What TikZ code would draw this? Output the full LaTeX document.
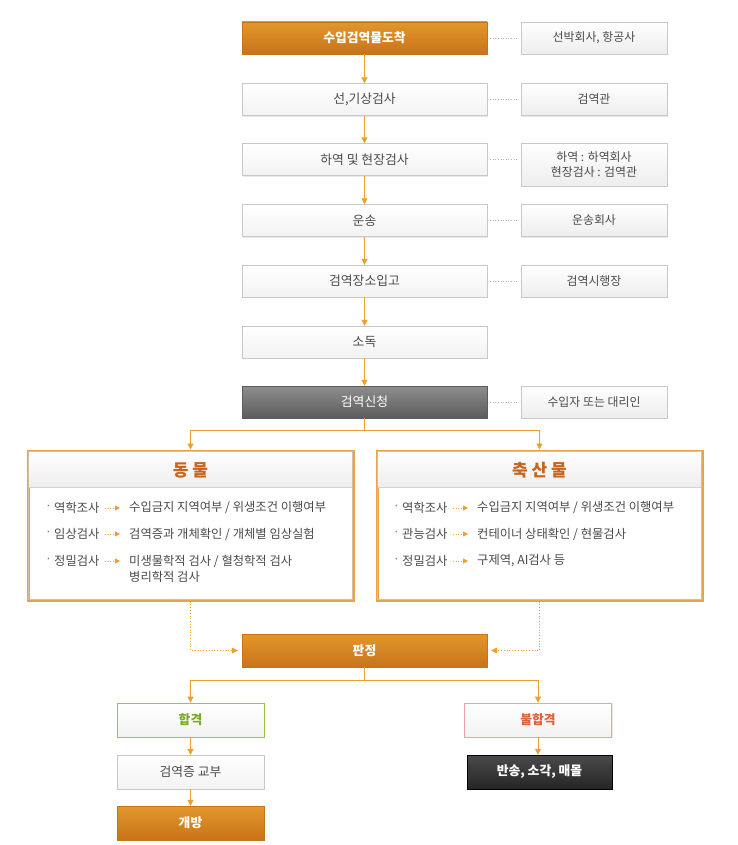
\documentclass[tikz,border=0pt]{standalone}
\usepackage{fontspec}
\setmainfont{Noto Sans CJK KR}
\usetikzlibrary{arrows.meta,shadows}

\definecolor{orTop}{HTML}{E2972B}
\definecolor{orBot}{HTML}{C8731A}
\definecolor{orLine}{HTML}{E9A24A}
\definecolor{flowCol}{HTML}{E8A030}
\definecolor{txtGray}{HTML}{4A4A4A}
\definecolor{boxLine}{HTML}{C8C8C8}
\definecolor{grayTop}{HTML}{8E8E8E}
\definecolor{grayBot}{HTML}{5C5C5C}
\definecolor{blackTop}{HTML}{4A4A4A}
\definecolor{blackBot}{HTML}{262626}
\definecolor{passLine}{HTML}{9CC63A}
\definecolor{passTxt}{HTML}{7BAA2A}
\definecolor{failLine}{HTML}{E9A3A3}
\definecolor{failTxt}{HTML}{E0603A}
\definecolor{titleTxt}{HTML}{C8641E}

\begin{document}
\begin{tikzpicture}[x=1pt,y=-1pt,
    mainbox/.style={draw=boxLine, top color=white, bottom color=gray!10,
        minimum width=245pt, minimum height=32pt, inner sep=0pt, text=txtGray,
        font=\fontsize{12.8}{14}\selectfont,
        drop shadow={shadow xshift=1pt, shadow yshift=-1.2pt, fill=black!18}},
    orangebox/.style={mainbox, draw=orBot, top color=orTop, bottom color=orBot,
        text=white, font=\fontsize{12.8}{14}\selectfont\bfseries},
    graybox/.style={mainbox, draw=grayBot, top color=grayTop, bottom color=grayBot,
        text=white},
    sidebox/.style={mainbox, minimum width=146pt, top color=white, bottom color=gray!14,
        align=center, font=\fontsize{11.9}{15}\selectfont},
    smallbox/.style={mainbox, minimum width=147pt, minimum height=34pt},
    bigbox/.style={draw=orLine, line width=3pt, fill=white, minimum width=325pt,
        minimum height=149pt, inner sep=0pt,
        drop shadow={shadow xshift=1pt, shadow yshift=-1.5pt, fill=black!18}},
    rowtext/.style={anchor=west, inner sep=0pt, text=txtGray,
        font=\fontsize{12.3}{14}\selectfont},
    flow/.style={flowCol, line width=0.8pt, -{Triangle[length=6pt,width=6pt]}},
    flowline/.style={flowCol, line width=0.8pt},
    dotflow/.style={flowCol, line width=0.8pt, dotted, -{Triangle[length=6pt,width=6pt]}},
    rowarrow/.style={flowCol, line width=0.9pt, dotted, -{Triangle[length=5pt,width=5pt]}},
    link/.style={gray!60, dotted, line width=0.6pt}
]
    \useasboundingbox (0,0) rectangle (738,845);

    % main column
    \node[orangebox] (arrive) at (364.5,38) {수입검역물도착};
    \node[mainbox] (ship) at (364.5,99.5) {선,기상검사};
    \node[mainbox] (unload) at (364.5,159.5) {하역 및 현장검사};
    \node[mainbox] (carry) at (364.5,220.5) {운송};
    \node[mainbox] (store) at (364.5,281) {검역장소입고};
    \node[mainbox] (clean) at (364.5,342) {소독};
    \node[graybox] (apply) at (364.5,402) {검역신청};

    % side column
    \node[sidebox] (sArrive) at (594,38) {선박회사, 항공사};
    \node[sidebox] (sShip) at (594,99.5) {검역관};
    \node[sidebox, minimum height=43pt] (sUnload) at (594,164.5) {하역 : 하역회사\\현장검사 : 검역관};
    \node[sidebox] (sCarry) at (594,220.5) {운송회사};
    \node[sidebox] (sStore) at (594,281) {검역시행장};
    \node[sidebox] (sApply) at (594,402) {수입자 또는 대리인};

    \foreach \a/\b in {arrive/sArrive, ship/sShip, carry/sCarry, store/sStore, apply/sApply}
    \draw[link] ([xshift=3pt]\a.east) -- ([xshift=-3pt]\b.west);
    \draw[link] ([xshift=3pt]unload.east) -- ([xshift=-3pt]unload.east -| sUnload.west);

    \foreach \a/\b in {arrive/ship, ship/unload, unload/carry, carry/store, store/clean, clean/apply}
    \draw[flow] (\a.south) -- (\b.north);

    % animal / product boxes
    \node[bigbox] (animal) at (190.5,525.5) {};
    \node[bigbox] (product) at (539.5,525.5) {};
    \foreach \b in {animal, product} {
        \fill[top color=white, bottom color=gray!14] ([xshift=2pt,yshift=-2pt]\b.north west) rectangle ([xshift=-2pt,yshift=-38pt]\b.north east);
        \draw[gray!35, line width=0.8pt] ([xshift=2pt,yshift=-38pt]\b.north west) -- ([xshift=-2pt,yshift=-38pt]\b.north east);
        \draw[orLine!60!gray!60, line width=0.5pt] ([xshift=2pt,yshift=-2pt]\b.north west) rectangle ([xshift=-2pt,yshift=2pt]\b.south east);
    }
    \node[text=titleTxt, font=\fontsize{17}{19}\selectfont\bfseries] (tAnimal) at (190.5,470) {동 물};
    \node[text=titleTxt, font=\fontsize{17}{19}\selectfont\bfseries] (tProduct) at (539.5,470) {축 산 물};

    \draw[flowline] (apply.south) -- ++(0,12) coordinate (split);
    \draw[flow] (split) -| (animal.north);
    \draw[flow] (split) -| (product.north);

    % rows of the animal box
    \foreach \y/\k/\v [count=\i] in {508/역학조사/{수입금지 지역여부 / 위생조건 이행여부},
        534/임상검사/{검역증과 개체확인 / 개체별 임상실험},
        561/정밀검사/{미생물학적 검사 / 혈청학적 검사}} {
        \node[rowtext, text=gray] (aDot\i) at (45,\y) {·};
        \node[rowtext] (aKey\i) at (54,\y) {\k};
        \node[rowtext] (aVal\i) at (129,\y) {\v};
        \draw[rowarrow] ([xshift=5pt]aKey\i.east) -- ([xshift=-9pt]aVal\i.west);
    }
    \node[rowtext] (aVal4) at (129,577) {병리학적 검사};

    % rows of the product box
    \fill[white] (475,552) rectangle (652,585);
    \foreach \y/\k/\v [count=\i] in {508/역학조사/{수입금지 지역여부 / 위생조건 이행여부},
        534/관능검사/{컨테이너 상태확인 / 현물검사},
        561/정밀검사/{구제역, AI검사 등}} {
        \node[rowtext, text=gray] (pDot\i) at (393,\y) {·};
        \node[rowtext] (pKey\i) at (402,\y) {\k};
        \node[rowtext] (pVal\i) at (477,\y) {\v};
        \draw[rowarrow] ([xshift=5pt]pKey\i.east) -- ([xshift=-9pt]pVal\i.west);
    }

    % decision
    \node[orangebox, minimum height=33pt] (judge) at (364.5,650.5) {판정};
    \draw[dotflow] (animal.south) |- ([xshift=-4pt]judge.west);
    \draw[dotflow] (product.south) |- ([xshift=4pt]judge.east);

    \node[smallbox, draw=passLine, line width=0.8pt, text=passTxt, font=\fontsize{12.8}{14}\selectfont\bfseries] (pass) at (190.5,720) {합격};
    \node[smallbox, draw=failLine, line width=0.8pt, text=failTxt, font=\fontsize{12.8}{14}\selectfont\bfseries] (fail) at (538,720) {불합격};
    \node[smallbox] (cert) at (190.5,772) {검역증 교부};
    \node[smallbox, draw=orBot, top color=orTop, bottom color=orBot, text=white, font=\fontsize{12.8}{14}\selectfont\bfseries] (open) at (190.5,823) {개방};
    \node[smallbox, minimum width=145pt, draw=black, top color=blackTop, bottom color=blackBot, text=white, font=\fontsize{12.8}{14}\selectfont\bfseries] (back) at (539.5,772) {반송, 소각, 매몰};

    \draw[flowline] (judge.south) -- ++(0,13) coordinate (split2);
    \draw[flow] (split2) -| (pass.north);
    \draw[flow] (split2) -| (fail.north);
    \draw[flow] (pass.south) -- (cert.north);
    \draw[flow] (cert.south) -- (open.north);
    \draw[flow] (fail.south) -- (fail.south |- back.north);
\end{tikzpicture}
\end{document}
